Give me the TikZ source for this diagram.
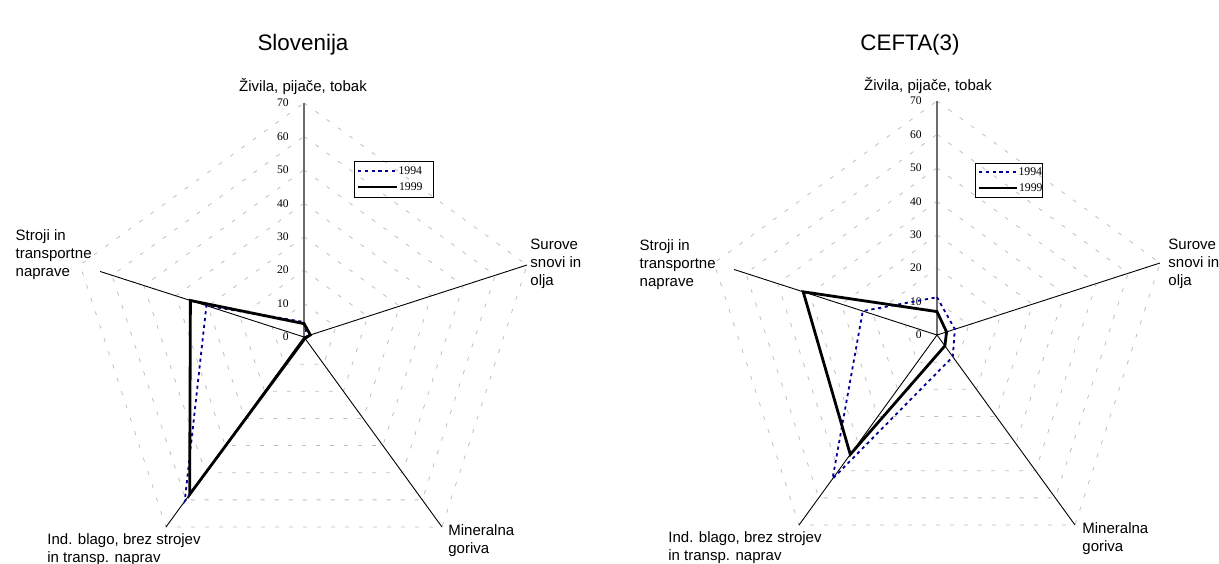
\documentclass[tikz,border=0pt]{standalone}
\usepackage{fontspec}
\setmainfont{Liberation Sans}
\newfontfamily\numfont{Liberation Serif}
\usetikzlibrary{positioning,calc}

\definecolor{navy}{RGB}{0,0,150}

\tikzset{
  webline/.style={gray!50, line width=0.4pt, dash pattern=on 2pt off 5pt},
  axisline/.style={black, line width=0.45pt},
  valaxis/.style={gray!85!black, line width=0.6pt},
  yr94/.style={navy, line width=0.9pt, dash pattern=on 1.6pt off 1.8pt},
  yr99/.style={black, line width=1.4pt, line join=miter},
  lbl/.style={font=\fontsize{7.5}{9}\selectfont, inner sep=0pt, align=left},
  num/.style={font=\numfont\fontsize{5.8}{6}\selectfont, inner sep=0pt, anchor=east},
  legtxt/.style={font=\numfont\fontsize{5.9}{6}\selectfont, text=black, inner sep=0.3pt, anchor=west},
  ttl/.style={font=\fontsize{11.2}{13}\selectfont, inner sep=0pt}
}

\begin{document}
\begin{tikzpicture}[x=0.5pt, y=-0.5pt]
	\useasboundingbox (0,0) rectangle (1219,563);

	% Slovenija
	\coordinate (Lc) at (304,337);
	\coordinate (La0) at (304,103);
	\coordinate (La1) at (527,265);
	\coordinate (La2) at (442,527);
	\coordinate (La3) at (166,527);
	\coordinate (La4) at (80,265);

	\foreach \k in {1,...,7} {
		\draw[webline] ($(Lc)!\k/7!(La0)$) -- ($(Lc)!\k/7!(La1)$) -- ($(Lc)!\k/7!(La2)$)
			-- ($(Lc)!\k/7!(La3)$) -- ($(Lc)!\k/7!(La4)$) -- cycle;
	};

	\draw[valaxis] (Lc) -- (La0);
	\foreach \i in {1,2,3} {
		\draw[axisline] (Lc) -- (La\i);
	};
	\draw[axisline] (Lc) -- ($(Lc)!0.91!(La4)$);

	\foreach \k/\n in {0/0,1/10,2/20,3/30,4/40,5/50,6/60,7/70} {
		\node[num] at ($(Lc)!\k/7!(La0) + (-15,0)$) {\n};
	};

	\draw[yr94] ($(Lc)!4.5/70!(La0)$) -- ($(Lc)!1/70!(La1)$) -- ($(Lc)!0.5/70!(La2)$)
		-- ($(Lc)!60.5/70!(La3)$) -- ($(Lc)!30.5/70!(La4)$) -- cycle;
	\draw[yr99] ($(Lc)!4/70!(La0)$) -- ($(Lc)!2/70!(La1)$) -- ($(Lc)!0.5/70!(La2)$)
		-- ($(Lc)!58/70!(La3)$) -- ($(Lc)!35.5/70!(La4)$) -- cycle;

	\node[ttl] (Ltitle) at (303,45) {Slovenija};
	\node[lbl, anchor=south] (Lziv) at (303,95) {Živila, pijače, tobak};
	\node[lbl, anchor=west] (Lsur) at (530,264) {Surove\\snovi in\\olja};
	\node[lbl, anchor=east] (Lstr) at (92,255) {Stroji in\\transportne\\naprave};
	\node[lbl, anchor=north west] (Lind) at (47,533) {Ind. blago, brez strojev\\in transp. naprav};
	\node[lbl, anchor=north west] (Lmin) at (448,524) {Mineralna\\goriva};

	\draw[black, line width=0.5pt] (354,161) rectangle (433,197);
	\draw[yr94] (358,171) -- (397,171) node[legtxt] {1994};
	\draw[yr99] (358,187) -- (397,187) node[legtxt] {1999};

	% CEFTA(3)
	\coordinate (Rc) at (937,335);
	\coordinate (Ra0) at (937,101);
	\coordinate (Ra1) at (1160,263);
	\coordinate (Ra2) at (1075,525);
	\coordinate (Ra3) at (799,525);
	\coordinate (Ra4) at (714,263);

	\foreach \k in {1,...,7} {
		\draw[webline] ($(Rc)!\k/7!(Ra0)$) -- ($(Rc)!\k/7!(Ra1)$) -- ($(Rc)!\k/7!(Ra2)$)
			-- ($(Rc)!\k/7!(Ra3)$) -- ($(Rc)!\k/7!(Ra4)$) -- cycle;
	};

	\draw[valaxis] (Rc) -- (Ra0);
	\foreach \i in {1,2,3} {
		\draw[axisline] (Rc) -- (Ra\i);
	};
	\draw[axisline] (Rc) -- ($(Rc)!0.91!(Ra4)$);

	\foreach \k/\n in {0/0,1/10,2/20,3/30,4/40,5/50,6/60,7/70} {
		\node[num] at ($(Rc)!\k/7!(Ra0) + (-15,0)$) {\n};
	};

	\draw[yr94] ($(Rc)!11.3/70!(Ra0)$) -- ($(Rc)!5.6/70!(Ra1)$) -- ($(Rc)!8/70!(Ra2)$)
		-- ($(Rc)!53/70!(Ra3)$) -- ($(Rc)!23.3/70!(Ra4)$) -- cycle;
	\draw[yr99] ($(Rc)!7/70!(Ra0)$) -- ($(Rc)!3/70!(Ra1)$) -- ($(Rc)!4/70!(Ra2)$)
		-- ($(Rc)!44/70!(Ra3)$) -- ($(Rc)!42/70!(Ra4)$) -- cycle;

	\node[ttl] (Rtitle) at (910,45) {CEFTA(3)};
	\node[lbl, anchor=south] (Rziv) at (928,94) {Živila, pijače, tobak};
	\node[lbl, anchor=west] (Rsur) at (1168,264) {Surove\\snovi in\\olja};
	\node[lbl, anchor=east] (Rstr) at (716,265) {Stroji in\\transportne\\naprave};
	\node[lbl, anchor=north west] (Rind) at (668,531) {Ind. blago, brez strojev\\in transp. naprav};
	\node[lbl, anchor=north west] (Rmin) at (1082,522) {Mineralna\\goriva};

	\draw[black, line width=0.5pt] (975,163) rectangle (1042,197);
	\draw[yr94] (979,172) -- (1017,172) node[legtxt] {1994};
	\draw[yr99] (979,188) -- (1017,188) node[legtxt] {1999};
\end{tikzpicture}
\end{document}
